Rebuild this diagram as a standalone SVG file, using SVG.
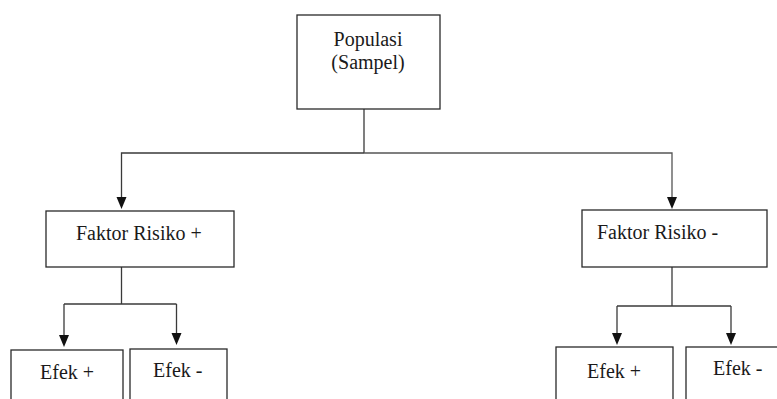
<svg xmlns="http://www.w3.org/2000/svg" width="777" height="399" viewBox="0 0 777 399">
<defs>
<style>
.box{fill:#fff;stroke:#2a2a2a;stroke-width:1.3}
.ln{fill:none;stroke:#3a3a3a;stroke-width:1.3}
.ah{fill:#111}
</style>
</defs>
<g id="connectors">
<path class="ln" d="M364,109 V153"/>
<path class="ln" d="M364,153 H121.5 V197"/>
<path class="ln" d="M364,153 H672 V197" style="stroke:#555"/>
<path class="ah" d="M667,197 L677,197 L672,209 Z"/>
<path class="ah" d="M116.5,197 L126.5,197 L121.5,209 Z"/>
<path class="ln" d="M121.5,267 V304"/>
<path class="ln" d="M64,304 H176.5"/>
<path class="ln" d="M64,304 V335"/>
<path class="ah" d="M59,335 L69,335 L64,347 Z"/>
<path class="ln" d="M176.5,304 V333"/>
<path class="ah" d="M171.5,333 L181.5,333 L176.5,345 Z"/>
<path class="ln" d="M672,267 V306"/>
<path class="ln" d="M617,306 H731"/>
<path class="ln" d="M617,306 V333"/>
<path class="ah" d="M612,333 L622,333 L617,345 Z"/>
<path class="ln" d="M731,306 V333"/>
<path class="ah" d="M726,333 L736,333 L731,345 Z"/>
</g>
<g font-family="Liberation Serif, Times New Roman, serif" font-size="20" fill="#1a1a1a">
<g id="populasi">
<rect class="box" x="297" y="15" width="143" height="94"/>
<text x="368" y="46" text-anchor="middle">Populasi</text>
<text x="368" y="69" text-anchor="middle">(Sampel)</text>
</g>
<g id="faktor-plus">
<rect class="box" x="46" y="211" width="188" height="56"/>
<text x="76" y="240">Faktor Risiko +</text>
</g>
<g id="faktor-minus">
<rect class="box" x="582" y="210" width="185" height="57"/>
<text x="597" y="239">Faktor Risiko -</text>
</g>
<g id="efek-plus-left">
<rect class="box" x="11" y="350" width="112" height="60"/>
<text x="40" y="379">Efek +</text>
</g>
<g id="efek-minus-left">
<rect class="box" x="130" y="349" width="97" height="60"/>
<text x="153" y="377">Efek -</text>
</g>
<g id="efek-plus-right">
<rect class="box" x="556" y="347" width="117" height="60"/>
<text x="587" y="378">Efek +</text>
</g>
<g id="efek-minus-right">
<rect class="box" x="686" y="347" width="100" height="60"/>
<text x="713" y="375">Efek -</text>
</g>
</g>
</svg>
